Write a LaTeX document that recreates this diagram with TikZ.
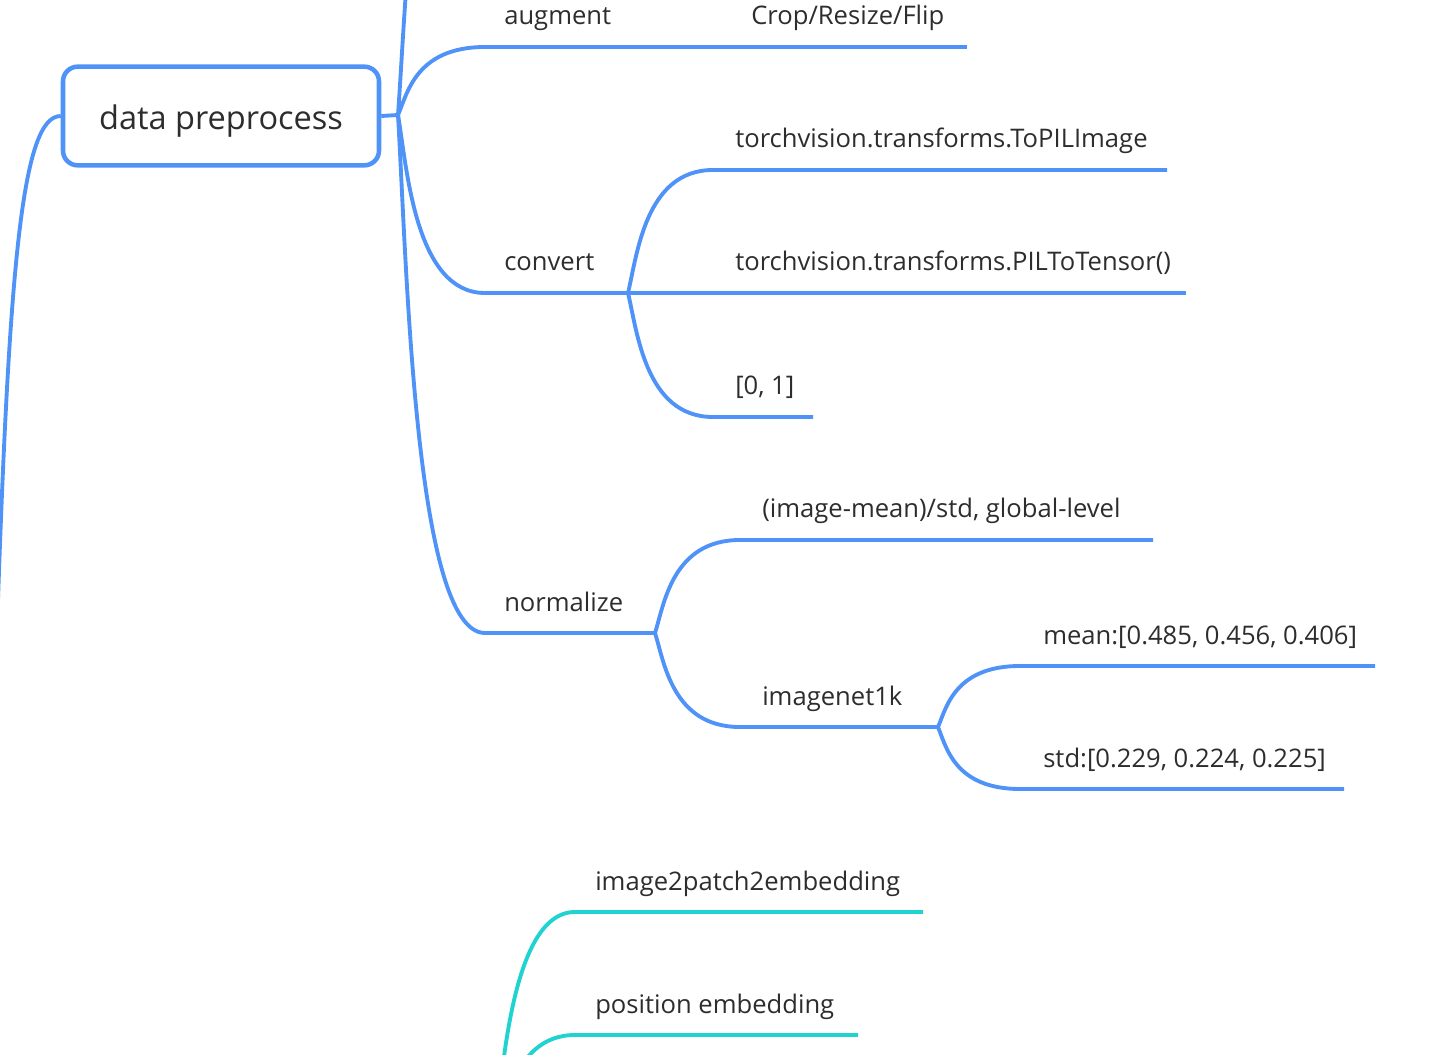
\documentclass[tikz,border=0pt]{standalone}
\usepackage{fontspec}
\setmainfont{Open Sans}

\tikzset{
blueline/.style={color={rgb, 255:red, 79; green, 147; blue, 248 }, line width=2.9pt},
tealline/.style={color={rgb, 255:red, 31; green, 211; blue, 208 }, line width=2.9pt},
leaf/.style={anchor=base west, inner sep=0pt, yshift=-1.5pt, text={rgb, 255:red, 45; green, 45; blue, 45 }, font=\fontsize{19.2pt}{23pt}\selectfont},
box/.style={draw={rgb, 255:red, 79; green, 147; blue, 248 }, line width=3.4pt, rounded corners=11pt,
            minimum width=237pt, minimum height=74pt, text height=24pt, text depth=3pt,
            text={rgb, 255:red, 45; green, 45; blue, 45 }, font=\fontsize{24.4pt}{29pt}\selectfont}
}

\begin{document}
\begin{tikzpicture}[x=0.75pt,y=0.75pt,yscale=-1,xscale=1]

\useasboundingbox (0,0) rectangle (1429,1055);
\clip (0,0) rectangle (1429,1055);

% COORDINATES

\coordinate (root) at (-2,600);
\coordinate (f0) at (398,115);
\coordinate (up) at (485,-300);
\coordinate (a1) at (485,47);
\coordinate (a2) at (630,47);
\coordinate (a3) at (967,47);
\coordinate (c1) at (485,293);
\coordinate (c2) at (628,293);
\coordinate (t1) at (713,170);
\coordinate (t2) at (1167,170);
\coordinate (t3) at (1186,293);
\coordinate (r1) at (713,417);
\coordinate (r2) at (813,417);
\coordinate (n1) at (485,633);
\coordinate (n2) at (655,633);
\coordinate (g1) at (740,540);
\coordinate (g2) at (1153,540);
\coordinate (i1) at (740,727);
\coordinate (i2) at (938,727);
\coordinate (m1) at (1020,666);
\coordinate (m2) at (1375,666);
\coordinate (s1) at (1020,789);
\coordinate (s2) at (1344,789);
\coordinate (e0) at (493,1160);
\coordinate (e1) at (575,912);
\coordinate (e2) at (923,912);
\coordinate (p1) at (575,1035);
\coordinate (p2) at (858,1035);

% NODES

\node[box] (dp) at (221,116) {data preprocess};

\node[leaf] (aug) at (504,23) {augment};
\node[leaf] (crop) at (751,23) {Crop/Resize/Flip};
\node[leaf] (conv) at (504,269) {convert};
\node[leaf] (topil) at (735,146) {torchvision.transforms.ToPILImage};
\node[leaf] (totensor) at (735,269) {torchvision.transforms.PILToTensor()};
\node[leaf] (range) at (735,393) {[0, 1]};
\node[leaf] (norm) at (504,609) {normalize};
\node[leaf] (glob) at (762,516) {(image-mean)/std, global-level};
\node[leaf] (inet) at (762,703) {imagenet1k};
\node[leaf] (mean) at (1043,642) {mean:[0.485, 0.456, 0.406]};
\node[leaf] (std) at (1043,765) {std:[0.229, 0.224, 0.225]};
\node[leaf] (i2p) at (595,888) {image2patch2embedding};
\node[leaf] (pos) at (595,1011) {position embedding};

% BRANCHES

\draw[blueline] (root) .. controls +(12,-350) and +(-37,0) .. (dp.west);
\draw[blueline] (dp.east) -- (f0);
\draw[blueline] (f0) .. controls +(9,-125) and +(-70,0) .. (up);

\draw[blueline] (f0) .. controls +(9,-20) and +(-70,0) .. (a1) -- (a2);
\draw[blueline] (a2) -- (a3);

\draw[blueline] (f0) .. controls +(9,53) and +(-70,0) .. (c1) -- (c2);
\draw[blueline] (c2) .. controls +(9,-37) and +(-68,0) .. (t1) -- (t2);
\draw[blueline] (c2) -- (t3);
\draw[blueline] (c2) .. controls +(9,37) and +(-68,0) .. (r1) -- (r2);

\draw[blueline] (f0) .. controls +(9,155) and +(-70,0) .. (n1) -- (n2);
\draw[blueline] (n2) .. controls +(9,-28) and +(-68,0) .. (g1) -- (g2);
\draw[blueline] (n2) .. controls +(9,28) and +(-68,0) .. (i1) -- (i2);
\draw[blueline] (i2) .. controls +(8,-18) and +(-66,0) .. (m1) -- (m2);
\draw[blueline] (i2) .. controls +(8,19) and +(-66,0) .. (s1) -- (s2);

\draw[tealline] (e0) .. controls +(8,-74) and +(-66,0) .. (e1) -- (e2);
\draw[tealline] (e0) .. controls +(8,-38) and +(-66,0) .. (p1) -- (p2);

\end{tikzpicture}
\end{document}
